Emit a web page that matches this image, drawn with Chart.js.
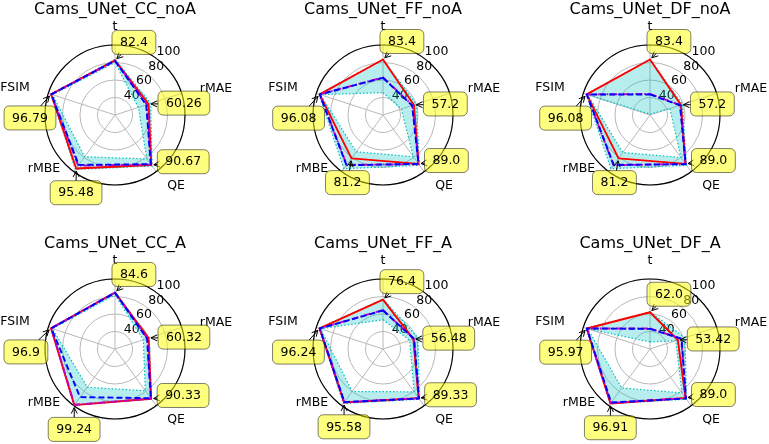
<!DOCTYPE html>
<html>
<head>
<meta charset="utf-8">
<script src="https://cdn.jsdelivr.net/npm/chart.js@4.4.0/dist/chart.umd.min.js"></script>
<style>
  html, body { margin: 0; padding: 0; background: #fff; }
  #wrap { position: relative; width: 769px; height: 444px; overflow: hidden; background: #fff; }
  #wrap canvas { position: absolute; }
</style>
</head>
<body>
<div id="wrap"></div>
<script>
// axes of every radar, clockwise from the top
const axisLabels = ['t', 'rMAE', 'QE', 'rMBE', 'FSIM'];
const titles = ['Cams_UNet_CC_noA', 'Cams_UNet_FF_noA', 'Cams_UNet_DF_noA',
                'Cams_UNet_CC_A', 'Cams_UNet_FF_A', 'Cams_UNet_DF_A'];
const radialTicks = [40, 60, 80, 100];

// red line (the annotated values)
const redVals = [
  [82.4, 60.26, 90.67, 95.48, 96.79],
  [83.4, 57.2, 89.0, 81.2, 96.08],
  [83.4, 57.2, 89.0, 81.2, 96.08],
  [84.6, 60.32, 90.33, 99.24, 96.9],
  [76.4, 56.48, 89.33, 95.58, 96.24],
  [62.0, 53.42, 89.0, 96.91, 95.97]
];
// blue dashed line
const blueVals = [
  [82.0, 57.5, 89.5, 90.5, 96.5],
  [62.5, 55.0, 89.0, 91.0, 96.0],
  [43.5, 56.0, 89.5, 90.5, 96.0],
  [84.3, 58.5, 89.5, 88.0, 96.5],
  [64.0, 57.5, 90.0, 95.0, 96.0],
  [43.0, 58.0, 90.0, 95.5, 96.0]
];
// magenta dash-dot line (mostly under the blue one)
const magentaVals = [
  [82.2, 58.5, 90.0, 91.5, 96.6],
  [63.0, 55.5, 89.5, 90.5, 96.0],
  [44.0, 56.5, 89.0, 91.0, 96.0],
  [84.5, 59.0, 90.0, 98.8, 96.6],
  [64.5, 57.0, 89.5, 95.3, 96.1],
  [43.5, 57.5, 89.5, 96.3, 96.0]
];
// cyan band: lower and upper bounds
const bandLow = [
  [80.0, 48.0, 82.0, 79.0, 95.0],
  [45.5, 42.0, 79.0, 72.0, 95.5],
  [21.0, 44.0, 80.0, 73.0, 95.0],
  [82.0, 54.0, 79.0, 74.0, 95.0],
  [53.5, 52.0, 80.5, 80.0, 95.0],
  [28.0, 51.0, 82.0, 75.0, 95.0]
];
const bandHigh = [
  [83.5, 63.0, 92.0, 97.0, 97.0],
  [83.6, 60.0, 91.0, 96.0, 97.0],
  [83.6, 59.0, 91.0, 96.0, 96.8],
  [85.0, 61.0, 91.0, 99.5, 97.0],
  [77.0, 62.0, 91.0, 97.0, 96.8],
  [62.5, 62.0, 91.0, 97.5, 96.5]
];

// layout
const centersX = [115, 383, 650];
const centersY = [115, 349];
const CW = 260, CH = 230;
const FONT = 'DejaVu Sans, sans-serif';
// point label offsets from the centre
const labelOffsets = [[0, -88], [101, -26], [61, 71], [-71, 54], [-100, -27]];
// annotation box: left edge / vertical centre relative to the red vertex
const boxOffsets = [[-3, -18], [9.5, -1], [6, -3.3], [-26, 24.3], [-47, 23.7]];

function fmt(v) {
  return Number.isInteger(v) ? v.toFixed(1) : String(v);
}

function makeDecor(p) {
  return {
    id: 'decor' + p,
    beforeDatasetsDraw(chart) {
      const sc = chart.scales.r;
      const ctx = chart.ctx;
      ctx.save();
      ctx.beginPath();
      ctx.arc(sc.xCenter, sc.yCenter, sc.getDistanceFromCenterForValue(100), 0, Math.PI * 2);
      ctx.strokeStyle = '#000';
      ctx.lineWidth = 1.1;
      ctx.stroke();
      ctx.font = '12.5px ' + FONT;
      ctx.fillStyle = '#000';
      ctx.textAlign = 'center';
      ctx.textBaseline = 'middle';
      radialTicks.forEach(v => {
        const r = sc.getDistanceFromCenterForValue(v);
        ctx.fillText(String(v), sc.xCenter + r * 0.70 + 4.5, sc.yCenter - r * 0.83 - 5);
      });
      ctx.restore();
    },
    afterDraw(chart) {
      const sc = chart.scales.r;
      const ctx = chart.ctx;
      ctx.save();
      // title
      ctx.font = '16px ' + FONT;
      ctx.fillStyle = '#000';
      ctx.textAlign = 'center';
      ctx.textBaseline = 'alphabetic';
      ctx.fillText(titles[p], sc.xCenter, sc.yCenter - 101);
      // axis names
      ctx.font = '12.5px ' + FONT;
      ctx.textBaseline = 'middle';
      axisLabels.forEach((lab, i) => {
        ctx.fillText(lab, sc.xCenter + labelOffsets[i][0], sc.yCenter + labelOffsets[i][1]);
      });
      // annotations
      ctx.textAlign = 'left';
      redVals[p].forEach((v, i) => {
        const pt = sc.getPointPositionForValue(i, v);
        const txt = fmt(v);
        const tw = ctx.measureText(txt).width;
        const pad = 8;
        const bw = tw + pad * 2, bh = 24;
        const bx = pt.x + boxOffsets[i][0];
        const by = pt.y + boxOffsets[i][1] - bh / 2;
        // arrow
        const cx = bx + bw / 2, cy = by + bh / 2;
        const dx = pt.x - cx, dy = pt.y - cy;
        const tx = dx !== 0 ? (bw / 2) / Math.abs(dx) : Infinity;
        const ty = dy !== 0 ? (bh / 2) / Math.abs(dy) : Infinity;
        const t0 = Math.min(tx, ty);
        if (t0 < 1) {
          const len = Math.hypot(dx, dy);
          const ux = dx / len, uy = dy / len;
          const ex = pt.x - ux * 2.5, ey = pt.y - uy * 2.5;
          ctx.beginPath();
          ctx.moveTo(cx + dx * t0, cy + dy * t0);
          ctx.lineTo(ex, ey);
          ctx.moveTo(ex - ux * 6 - uy * 3, ey - uy * 6 + ux * 3);
          ctx.lineTo(ex, ey);
          ctx.lineTo(ex - ux * 6 + uy * 3, ey - uy * 6 - ux * 3);
          ctx.strokeStyle = '#000';
          ctx.lineWidth = 1;
          ctx.stroke();
        }
        ctx.beginPath();
        ctx.roundRect(bx, by, bw, bh, 5);
        ctx.fillStyle = 'rgba(255,255,0,0.5)';
        ctx.fill();
        ctx.strokeStyle = 'rgba(0,0,0,0.5)';
        ctx.lineWidth = 1;
        ctx.stroke();
        ctx.fillStyle = '#000';
        ctx.fillText(txt, bx + pad, cy + 0.5);
      });
      ctx.restore();
    }
  };
}

function buildDatasets(p) {
  return [
    { label: 'low', data: bandLow[p], borderColor: '#00bfbf', borderWidth: 1.2,
      borderDash: [1.5, 2], fill: false, order: 5 },
    { label: 'high', data: bandHigh[p], borderColor: '#00bfbf', borderWidth: 1.2,
      borderDash: [1.5, 2], fill: '-1', backgroundColor: 'rgba(0,191,191,0.28)', order: 4 },
    { label: 'red', data: redVals[p], borderColor: '#ff0000', borderWidth: 1.9,
      fill: false, order: 3 },
    { label: 'magenta', data: magentaVals[p], borderColor: '#bf00bf', borderWidth: 1.9,
      borderDash: [7, 2, 1.5, 2], fill: false, order: 2 },
    { label: 'blue', data: blueVals[p], borderColor: '#0000ff', borderWidth: 1.9,
      borderDash: [6, 3], fill: false, order: 1 }
  ];
}

const wrap = document.getElementById('wrap');
titles.forEach((title, p) => {
  const col = p % 3, row = Math.floor(p / 3);
  const cv = document.createElement('canvas');
  cv.width = CW;
  cv.height = CH;
  cv.style.left = (centersX[col] - 130) + 'px';
  cv.style.top = (centersY[row] - 115) + 'px';
  wrap.appendChild(cv);

  new Chart(cv.getContext('2d'), {
    type: 'radar',
    data: { labels: axisLabels, datasets: buildDatasets(p) },
    options: {
      responsive: false,
      animation: false,
      layout: { padding: { left: 60, right: 60, top: 45, bottom: 45 } },
      elements: {
        point: { radius: 0, hoverRadius: 0 },
        line: { tension: 0, borderJoinStyle: 'round' }
      },
      plugins: {
        legend: { display: false },
        tooltip: { enabled: false },
        title: { display: false }
      },
      scales: {
        r: {
          min: 20,
          max: 100,
          ticks: { display: false, stepSize: 20 },
          pointLabels: { display: false },
          grid: { circular: true, color: '#b8b8b8', lineWidth: 1 },
          angleLines: { color: '#b8b8b8', lineWidth: 1 }
        }
      }
    },
    plugins: [makeDecor(p)]
  });
});
</script>
</body>
</html>
